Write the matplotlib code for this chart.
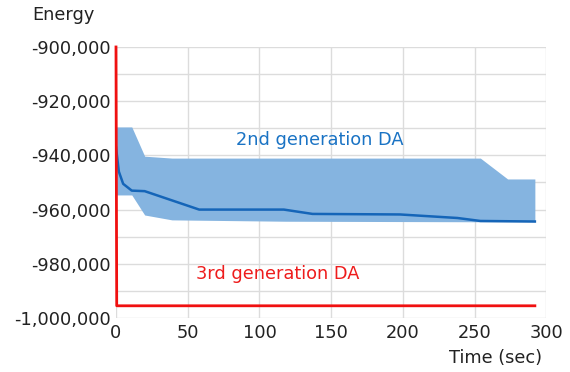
import matplotlib
matplotlib.use("Agg")
import matplotlib.pyplot as plt
from matplotlib.ticker import MultipleLocator, FuncFormatter

# 2nd generation DA: mean energy and min/max band
t_mean = [0, 2, 5, 11, 20, 58, 117, 137, 198, 238, 254, 292]
e_mean = [-937000, -946000, -950500, -953000, -953200, -960000, -960000,
          -961600, -961800, -963100, -964200, -964400]

t_band = [0, 11, 20, 39, 118, 254, 273, 292]
e_upper = [-929500, -929500, -940300, -941000, -941000, -941000, -948700, -948700]
e_lower = [-954600, -954600, -962000, -963800, -964300, -964500, -964500, -964500]

# 3rd generation DA
t_third = [0, 0.5, 292]
e_third = [-900000, -995500, -995500]

fs = 12.8

fig = plt.figure(figsize=(5.7, 3.72), dpi=100)
ax = fig.add_axes([0.2035, 0.1452, 0.755, 0.7285])

ax.fill_between(t_band, e_lower, e_upper, color="#85b4e0", linewidth=0, zorder=2)
ax.plot(t_mean, e_mean, color="#1565b8", linewidth=1.8, zorder=3)
ax.plot(t_third, e_third, color="#f01010", linewidth=2, zorder=4, clip_on=False)

ax.set_xlim(0, 300)
ax.set_ylim(-1000000, -900000)
ax.xaxis.set_major_locator(MultipleLocator(50))
ax.yaxis.set_major_locator(MultipleLocator(20000))
ax.yaxis.set_minor_locator(MultipleLocator(10000))
ax.yaxis.set_major_formatter(FuncFormatter(lambda v, p: "{:,.0f}".format(v)))
ax.grid(True, which="both", color="#dcdcdc", linewidth=1, zorder=0)
ax.set_axisbelow(True)
for s in ax.spines.values():
    s.set_visible(False)
ax.tick_params(which="both", length=0, labelsize=fs, colors="#222222", pad=4)

ax.text(142, -934300, "2nd generation DA", color="#1a73c4", fontsize=fs,
        ha="center", va="center", zorder=5)
ax.text(113, -983800, "3rd generation DA", color="#ee1c1c", fontsize=fs,
        ha="center", va="center", zorder=5)

fig.text(63 / 570, 1 - 15 / 372, "Energy", fontsize=fs, ha="center", va="center",
         color="#222222")
fig.text(496 / 570, 1 - 358 / 372, "Time (sec)", fontsize=fs, ha="center", va="center",
         color="#222222")

fig.savefig("out.png", dpi=100)
